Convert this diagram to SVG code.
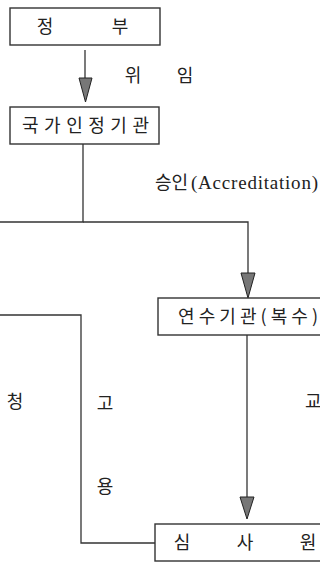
<svg xmlns="http://www.w3.org/2000/svg" width="320" height="562" viewBox="0 0 320 562">
<style>
.box{fill:#fff;stroke:#333;stroke-width:1.4}
.ln{fill:none;stroke:#333;stroke-width:1.3}
.ah{fill:#777;stroke:#222;stroke-width:1}
.t{font-family:"Liberation Serif","Noto Sans CJK KR",serif;font-size:19px;fill:#222}
.k{font-family:"Noto Sans CJK KR",sans-serif;font-size:18px;fill:#222}
</style>
<rect width="320" height="562" fill="#fff"/>
<g id="connectors">
<line class="ln" x1="85" y1="50" x2="85" y2="80"/>
<polygon class="ah" points="79,78 92,78 85.5,102"/>
<polyline class="ln" points="83,144 83,222 0,222"/>
<polyline class="ln" points="83,222 248,222 248,275"/>
<polygon class="ah" points="241,273 255,273 248,298"/>
<polyline class="ln" points="0,315 81,315 81,543 155,543"/>
<line class="ln" x1="247" y1="335" x2="247" y2="499"/>
<polygon class="ah" points="240,497 254,497 247,519"/>
</g>
<g id="n1">
<rect class="box" x="10" y="8" width="150" height="37"/>
<text class="k" x="45" y="33" text-anchor="middle">정</text>
<text class="k" x="120" y="33" text-anchor="middle">부</text>
</g>
<g id="n2">
<rect class="box" x="10" y="107" width="149" height="37"/>
<text class="k" x="22" y="132" textLength="127" lengthAdjust="spacing">국가인정기관</text>
</g>
<g id="n3">
<rect class="box" x="158" y="298" width="170" height="37"/>
<text class="k" x="178" y="323" textLength="140" lengthAdjust="spacing">연수기관(복수)</text>
</g>
<g id="n4">
<rect class="box" x="155" y="524" width="175" height="37"/>
<text class="k" x="182" y="549" text-anchor="middle">심</text>
<text class="k" x="245" y="549" text-anchor="middle">사</text>
<text class="k" x="308" y="549" text-anchor="middle">원</text>
</g>
<g id="labels">
<text class="k" x="133" y="82" text-anchor="middle">위</text>
<text class="k" x="185" y="82" text-anchor="middle">임</text>
<text class="k" x="155" y="189">승인</text>
<text class="t" x="191" y="189" textLength="127" lengthAdjust="spacing">(Accreditation)</text>
<text class="k" x="15" y="408" text-anchor="middle">청</text>
<text class="k" x="105" y="410" text-anchor="middle">고</text>
<text class="k" x="105" y="493" text-anchor="middle">용</text>
<text class="k" x="305" y="408">교</text>
</g>
</svg>
